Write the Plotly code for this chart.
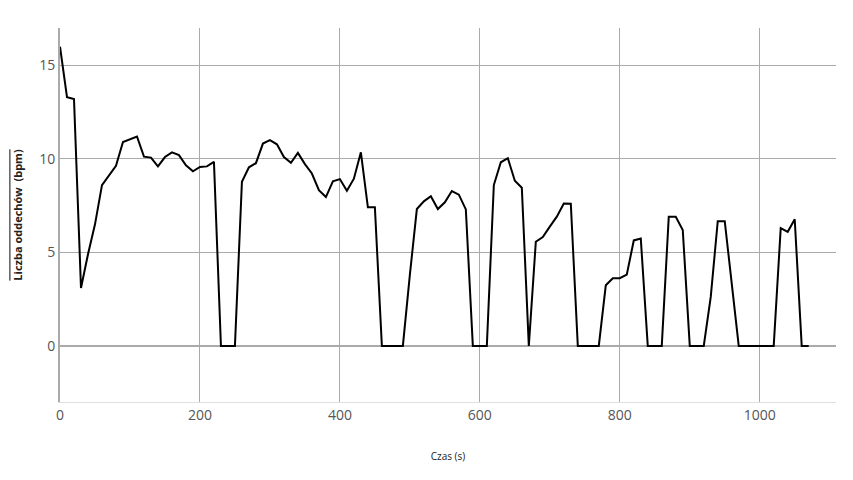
import plotly.graph_objects as go

time_s = list(range(0, 1080, 10))
breaths_bpm = [
    16.0, 13.3, 13.2, 3.1, 4.9, 6.5, 8.6, 9.15, 9.63, 10.9,
    11.05, 11.2, 10.12, 10.07, 9.6, 10.1, 10.35, 10.2, 9.66, 9.34,
    9.57, 9.6, 9.84, 0, 0, 0, 8.78, 9.55, 9.77, 10.82,
    11.0, 10.78, 10.1, 9.79, 10.32, 9.72, 9.22, 8.33, 7.96, 8.8,
    8.92, 8.3, 8.94, 10.35, 7.41, 7.41, 0, 0, 0, 0,
    3.8, 7.32, 7.73, 8.0, 7.32, 7.68, 8.28, 8.09, 7.3, 0,
    0, 0, 8.6, 9.82, 10.04, 8.83, 8.46, 0, 5.57, 5.82,
    6.38, 6.91, 7.62, 7.6, 0, 0, 0, 0, 3.24, 3.62,
    3.62, 3.81, 5.64, 5.74, 0, 0, 0, 6.9, 6.9, 6.2,
    0, 0, 0, 2.62, 6.67, 6.67, 3.33, 0, 0, 0,
    0, 0, 0, 6.3, 6.1, 6.77, 0, 0,
]

x_title = "Czas (s)"
y_title = "Liczba oddechów\u00a0 (bpm)"

fig = go.Figure()
fig.add_trace(go.Scatter(
    x=time_s, y=breaths_bpm, mode="lines",
    line=dict(color="#000000", width=2),
    hoverinfo="x+y", showlegend=False,
))

fig.update_layout(
    width=853, height=480,
    margin=dict(l=52, r=25, t=20, b=86),
    paper_bgcolor="#ffffff", plot_bgcolor="#ffffff",
    font=dict(family="Open Sans, sans-serif", size=14, color="#555555"),
    xaxis=dict(
        range=[0, 1109], dtick=200, tick0=0, automargin=False,
        showgrid=True, gridcolor="#aaaaaa", gridwidth=1,
        zeroline=False, showline=True, linecolor="#e0e0e0", linewidth=1,
        ticks="", tickfont=dict(size=14, color="#555555"),
        title=dict(text=x_title, font=dict(size=10, color="#222222"), standoff=30),
    ),
    yaxis=dict(
        range=[-3, 17], dtick=5, tick0=0, automargin=False,
        showgrid=True, gridcolor="#aaaaaa", gridwidth=1,
        zeroline=True, zerolinecolor="#aaaaaa", zerolinewidth=2,
        showline=True, linecolor="#aaaaaa", linewidth=2,
        ticks="", tickfont=dict(size=14, color="#555555"),
        title=dict(text="<b>" + y_title + "</b>",
                   font=dict(size=11, color="#222222", lineposition="over"),
                   standoff=14),
    ),
)

fig.write_html("out.html")
